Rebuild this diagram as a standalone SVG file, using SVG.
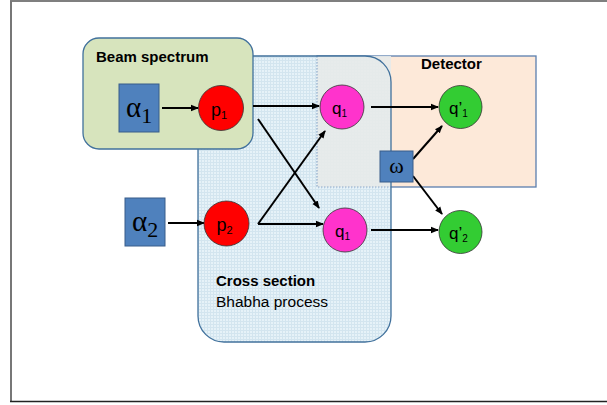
<svg xmlns="http://www.w3.org/2000/svg" width="607" height="405" viewBox="0 0 607 405">
<style>
.lbl{font-family:"Liberation Sans",Arial,sans-serif;fill:#000}
.title{font-family:"Liberation Sans",Arial,sans-serif;font-weight:bold;font-size:15px;fill:#000}
.sym{font-family:"Liberation Serif","Times New Roman",serif;fill:#000}
.box{fill:#4F81BD;stroke:#385D8A;stroke-width:1}
.conn{stroke:#000;stroke-width:2;fill:none;marker-end:url(#ah)}
.node{stroke:#333;stroke-width:0.8}
</style>
<defs>
<marker id="ah" markerWidth="8" markerHeight="8" refX="7" refY="4" orient="auto" markerUnits="userSpaceOnUse">
<path d="M0,0.8 L8,4 L0,7.2 Z" fill="#000"/>
</marker>
<pattern id="grid" width="3" height="3" patternUnits="userSpaceOnUse">
<rect width="3" height="3" fill="#E6F2F8"/>
<path d="M0,0.5 H3 M0.5,0 V3" stroke="#D3E5EF" stroke-width="1"/>
</pattern>
</defs>
<rect x="10" y="1" width="600" height="400.5" fill="#fff" stroke="none"/>
<line x1="10" y1="1" x2="607" y2="1" stroke="#000" stroke-width="1.2"/>
<line x1="11" y1="1" x2="11" y2="402" stroke="#777" stroke-width="2"/>
<line x1="10" y1="401.5" x2="607" y2="401.5" stroke="#222" stroke-width="1.6"/>

<g id="detector">
<rect x="317" y="56" width="219" height="131" fill="#FDE9D9" stroke="#5B7FAE" stroke-width="1.3"/>
</g>
<g id="cross-section">
<rect x="198" y="56" width="193" height="286" rx="26" ry="26" fill="url(#grid)" stroke="none"/>
<rect x="317" y="56" width="74" height="131" fill="#E7EAE9" opacity="0.9"/>
<path d="M317,56 V187 H391" fill="none" stroke="#8FAACB" stroke-width="1.2" stroke-dasharray="1.5,1.5"/>
<rect x="198" y="56" width="193" height="286" rx="26" ry="26" fill="none" stroke="#41719C" stroke-width="1.3"/>
<text class="title" x="216" y="286">Cross section</text>
<text class="lbl" x="216" y="307" font-size="15.5">Bhabha process</text>
</g>
<text class="title" x="421" y="69">Detector</text>
<g id="beam-spectrum">
<rect x="83" y="38" width="170" height="111" rx="16" ry="16" fill="#D7E4BD" stroke="#41719C" stroke-width="1.3"/>
<text class="title" x="96" y="62">Beam spectrum</text>
</g>

<g id="connectors">
<line class="conn" x1="162" y1="108" x2="198" y2="108"/>
<line class="conn" x1="253" y1="106" x2="319" y2="106"/>
<line class="conn" x1="371" y1="107" x2="438" y2="107"/>
<line class="conn" x1="258" y1="119" x2="319" y2="208"/>
<line class="conn" x1="258" y1="224" x2="325" y2="131"/>
<line x1="258" y1="224" x2="323" y2="224" class="conn"/>
<line class="conn" x1="168" y1="223" x2="204" y2="223"/>
<line class="conn" x1="371" y1="230" x2="438" y2="230"/>
<line class="conn" x1="413" y1="159" x2="442" y2="126"/>
<line class="conn" x1="413" y1="176" x2="442" y2="214"/>
</g>

<g id="alpha1">
<rect class="box" x="119" y="84" width="40" height="48"/>
<text class="sym" x="126" y="117" font-size="29">α<tspan font-size="22" dy="6">1</tspan></text>
</g>
<g id="alpha2">
<rect class="box" x="125" y="198" width="40" height="48"/>
<text class="sym" x="132" y="231" font-size="29">α<tspan font-size="22" dy="6">2</tspan></text>
</g>
<g id="omega">
<rect class="box" x="380" y="151" width="33" height="31"/>
<text class="sym" x="396.5" y="173" font-size="22" text-anchor="middle">ω</text>
</g>
<g id="p1">
<circle class="node" cx="221" cy="108" r="22.5" fill="#FF0000"/>
<text class="lbl" x="211" y="116" font-size="18">p<tspan font-size="11" dy="3">1</tspan></text>
</g>
<g id="p2">
<circle class="node" cx="226.5" cy="223.5" r="22.5" fill="#FF0000"/>
<text class="lbl" x="216.5" y="231" font-size="18">p<tspan font-size="11" dy="3">2</tspan></text>
</g>
<g id="q1-top">
<circle class="node" cx="342" cy="107" r="22" fill="#FF33CC"/>
<text class="lbl" x="332" y="114" font-size="17">q<tspan font-size="10" dy="3">1</tspan></text>
</g>
<g id="q1-bottom">
<circle class="node" cx="345" cy="230" r="22" fill="#FF33CC"/>
<text class="lbl" x="335" y="237" font-size="17">q<tspan font-size="10" dy="3">1</tspan></text>
</g>
<g id="q1prime">
<circle class="node" cx="460.5" cy="107" r="21.5" fill="#33CC33"/>
<text class="lbl" x="449" y="114" font-size="17">q’<tspan font-size="10" dy="3">1</tspan></text>
</g>
<g id="q2prime">
<circle class="node" cx="460.5" cy="232" r="21.5" fill="#33CC33"/>
<text class="lbl" x="449" y="239" font-size="17">q’<tspan font-size="10" dy="3">2</tspan></text>
</g>
</svg>
